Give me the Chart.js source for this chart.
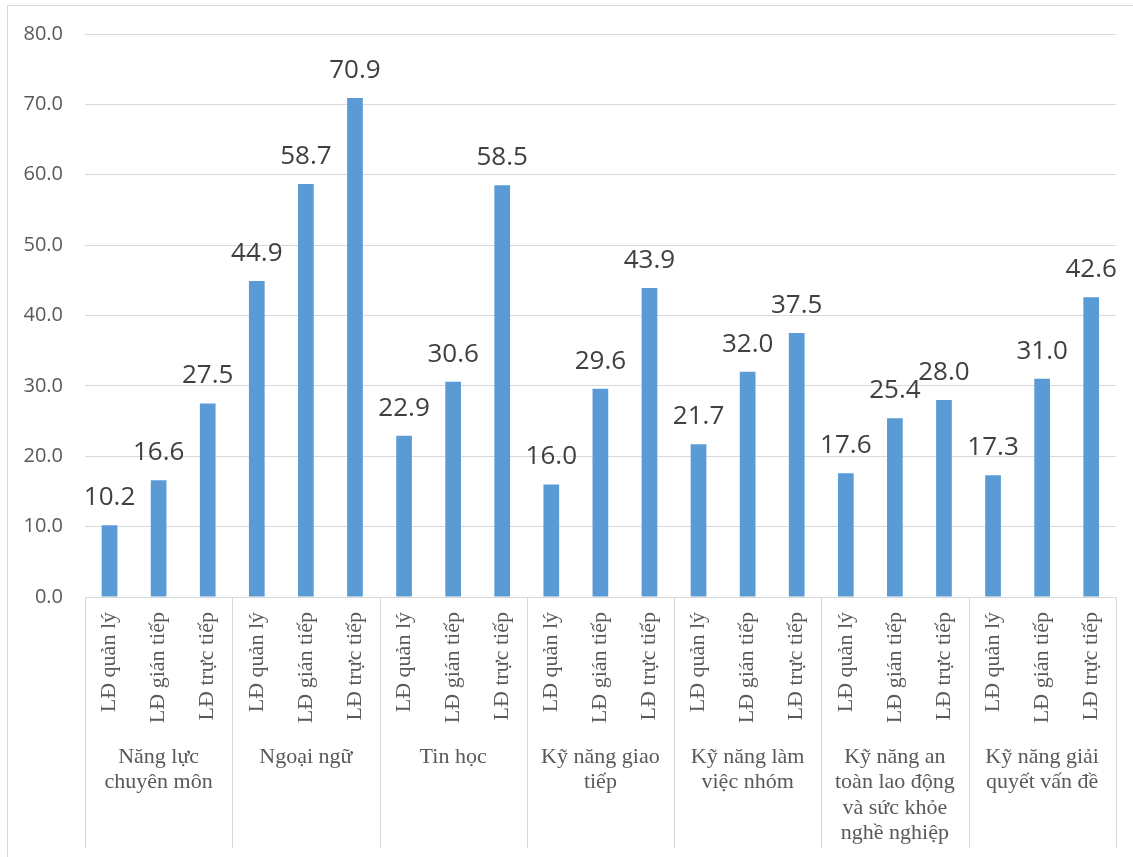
<!DOCTYPE html>
<html lang="vi">
<head>
<meta charset="utf-8">
<title>Kỹ năng người lao động</title>
<script src="https://cdn.jsdelivr.net/npm/chart.js@4.4.1/dist/chart.umd.min.js"></script>
<style>
  html, body { margin: 0; padding: 0; background: #fff; overflow: hidden; }
  #wrap { position: relative; width: 1133px; height: 857px; }
  #frame { position: absolute; left: 7px; top: 5px; width: 1200px; height: 900px;
           border: 1px solid #d9d9d9; box-sizing: border-box; pointer-events: none; }
  canvas { position: absolute; left: 0; top: 0; }
</style>
</head>
<body>
<div id="wrap">
  <div id="frame"></div>
  <canvas id="chart" width="1133" height="857"></canvas>
</div>
<script>
// Skill groups (outer axis level), each wrapped onto its own lines
const groupLines = [
  ['Năng lực', 'chuyên môn'],
  ['Ngoại ngữ'],
  ['Tin học'],
  ['Kỹ năng giao', 'tiếp'],
  ['Kỹ năng làm', 'việc nhóm'],
  ['Kỹ năng an', 'toàn lao động', 'và sức khỏe', 'nghề nghiệp'],
  ['Kỹ năng giải', 'quyết vấn đề']
];

// Worker types (inner axis level)
const workerTypes = ['LĐ quản lý', 'LĐ gián tiếp', 'LĐ trực tiếp'];

// Values (%) per worker type, one entry per skill group
const quanLy   = [10.2, 44.9, 22.9, 16.0, 21.7, 17.6, 17.3];
const gianTiep = [16.6, 58.7, 30.6, 29.6, 32.0, 25.4, 31.0];
const trucTiep = [27.5, 70.9, 58.5, 43.9, 37.5, 28.0, 42.6];

// Y axis ticks
const yTicks = [0, 10, 20, 30, 40, 50, 60, 70, 80];

// Flatten into one bar per (group, worker type)
const seriesByType = [quanLy, gianTiep, trucTiep];
const labels = [];
const values = [];
groupLines.forEach((g, gi) => {
  workerTypes.forEach((t, ti) => {
    labels.push(t);
    values.push(seriesByType[ti][gi]);
  });
});

const AXIS_H = 251;
const BAR_COLOR = '#5b9bd5';
const GRID = '#d9d9d9';

// Value labels above each bar
const valueLabels = {
  id: 'valueLabels',
  afterDatasetsDraw(chart) {
    const ctx = chart.ctx;
    const meta = chart.getDatasetMeta(0);
    ctx.save();
    ctx.font = '26px "Open Sans", "Liberation Sans", sans-serif';
    ctx.fillStyle = '#404040';
    ctx.textAlign = 'center';
    ctx.textBaseline = 'alphabetic';
    meta.data.forEach((bar, i) => {
      ctx.fillText(values[i].toFixed(1), bar.x, bar.y - 20);
    });
    ctx.restore();
  }
};

// Group separators and outer-level labels below the rotated tick labels
const groupAxis = {
  id: 'groupAxis',
  afterDraw(chart) {
    const ctx = chart.ctx;
    const area = chart.chartArea;
    const xs = chart.scales.x;
    const n = groupLines.length;
    const per = workerTypes.length;
    ctx.save();
    ctx.strokeStyle = GRID;
    ctx.lineWidth = 1;
    for (let i = 0; i <= n; i++) {
      let x;
      if (i === 0) x = area.left;
      else if (i === n) x = area.right;
      else x = (xs.getPixelForValue(i * per - 1) + xs.getPixelForValue(i * per)) / 2;
      x = Math.round(x) + 0.5;
      ctx.beginPath();
      ctx.moveTo(x, area.bottom);
      ctx.lineTo(x, area.bottom + AXIS_H);
      ctx.stroke();
    }
    ctx.font = '22px "Liberation Serif", "Times New Roman", serif';
    ctx.fillStyle = '#595959';
    ctx.textAlign = 'center';
    ctx.textBaseline = 'middle';
    groupLines.forEach((lines, gi) => {
      const cx = xs.getPixelForValue(gi * per + 1);
      lines.forEach((line, li) => {
        ctx.fillText(line, cx, area.bottom + 160 + li * 25.5);
      });
    });
    ctx.restore();
  }
};

new Chart(document.getElementById('chart'), {
  type: 'bar',
  data: {
    labels: labels,
    datasets: [{
      data: values,
      backgroundColor: BAR_COLOR,
      borderWidth: 0,
      barPercentage: 0.32,
      categoryPercentage: 1.0
    }]
  },
  options: {
    responsive: false,
    animation: false,
    events: [],
    layout: { padding: { left: 10, right: 16, top: 33, bottom: 9 } },
    plugins: {
      legend: { display: false },
      tooltip: { enabled: false }
    },
    scales: {
      x: {
        grid: { display: false, drawTicks: false },
        border: { display: true, color: GRID, width: 1 },
        ticks: {
          minRotation: 90,
          maxRotation: 90,
          autoSkip: false,
          padding: 15,
          color: '#595959',
          font: { family: '"Liberation Serif", "Times New Roman", serif', size: 22 }
        },
        afterFit(scale) { scale.height = AXIS_H; }
      },
      y: {
        min: 0,
        max: 80,
        afterBuildTicks(scale) { scale.ticks = yTicks.map(v => ({ value: v })); },
        grid: { color: GRID, lineWidth: 1, drawTicks: false },
        border: { display: false },
        ticks: {
          padding: 22,
          color: '#595959',
          font: { family: '"Open Sans", "Liberation Sans", sans-serif', size: 20 },
          callback: v => Number(v).toFixed(1)
        },
        afterFit(scale) { scale.width = 75; }
      }
    }
  },
  plugins: [valueLabels, groupAxis]
});
</script>
</body>
</html>
